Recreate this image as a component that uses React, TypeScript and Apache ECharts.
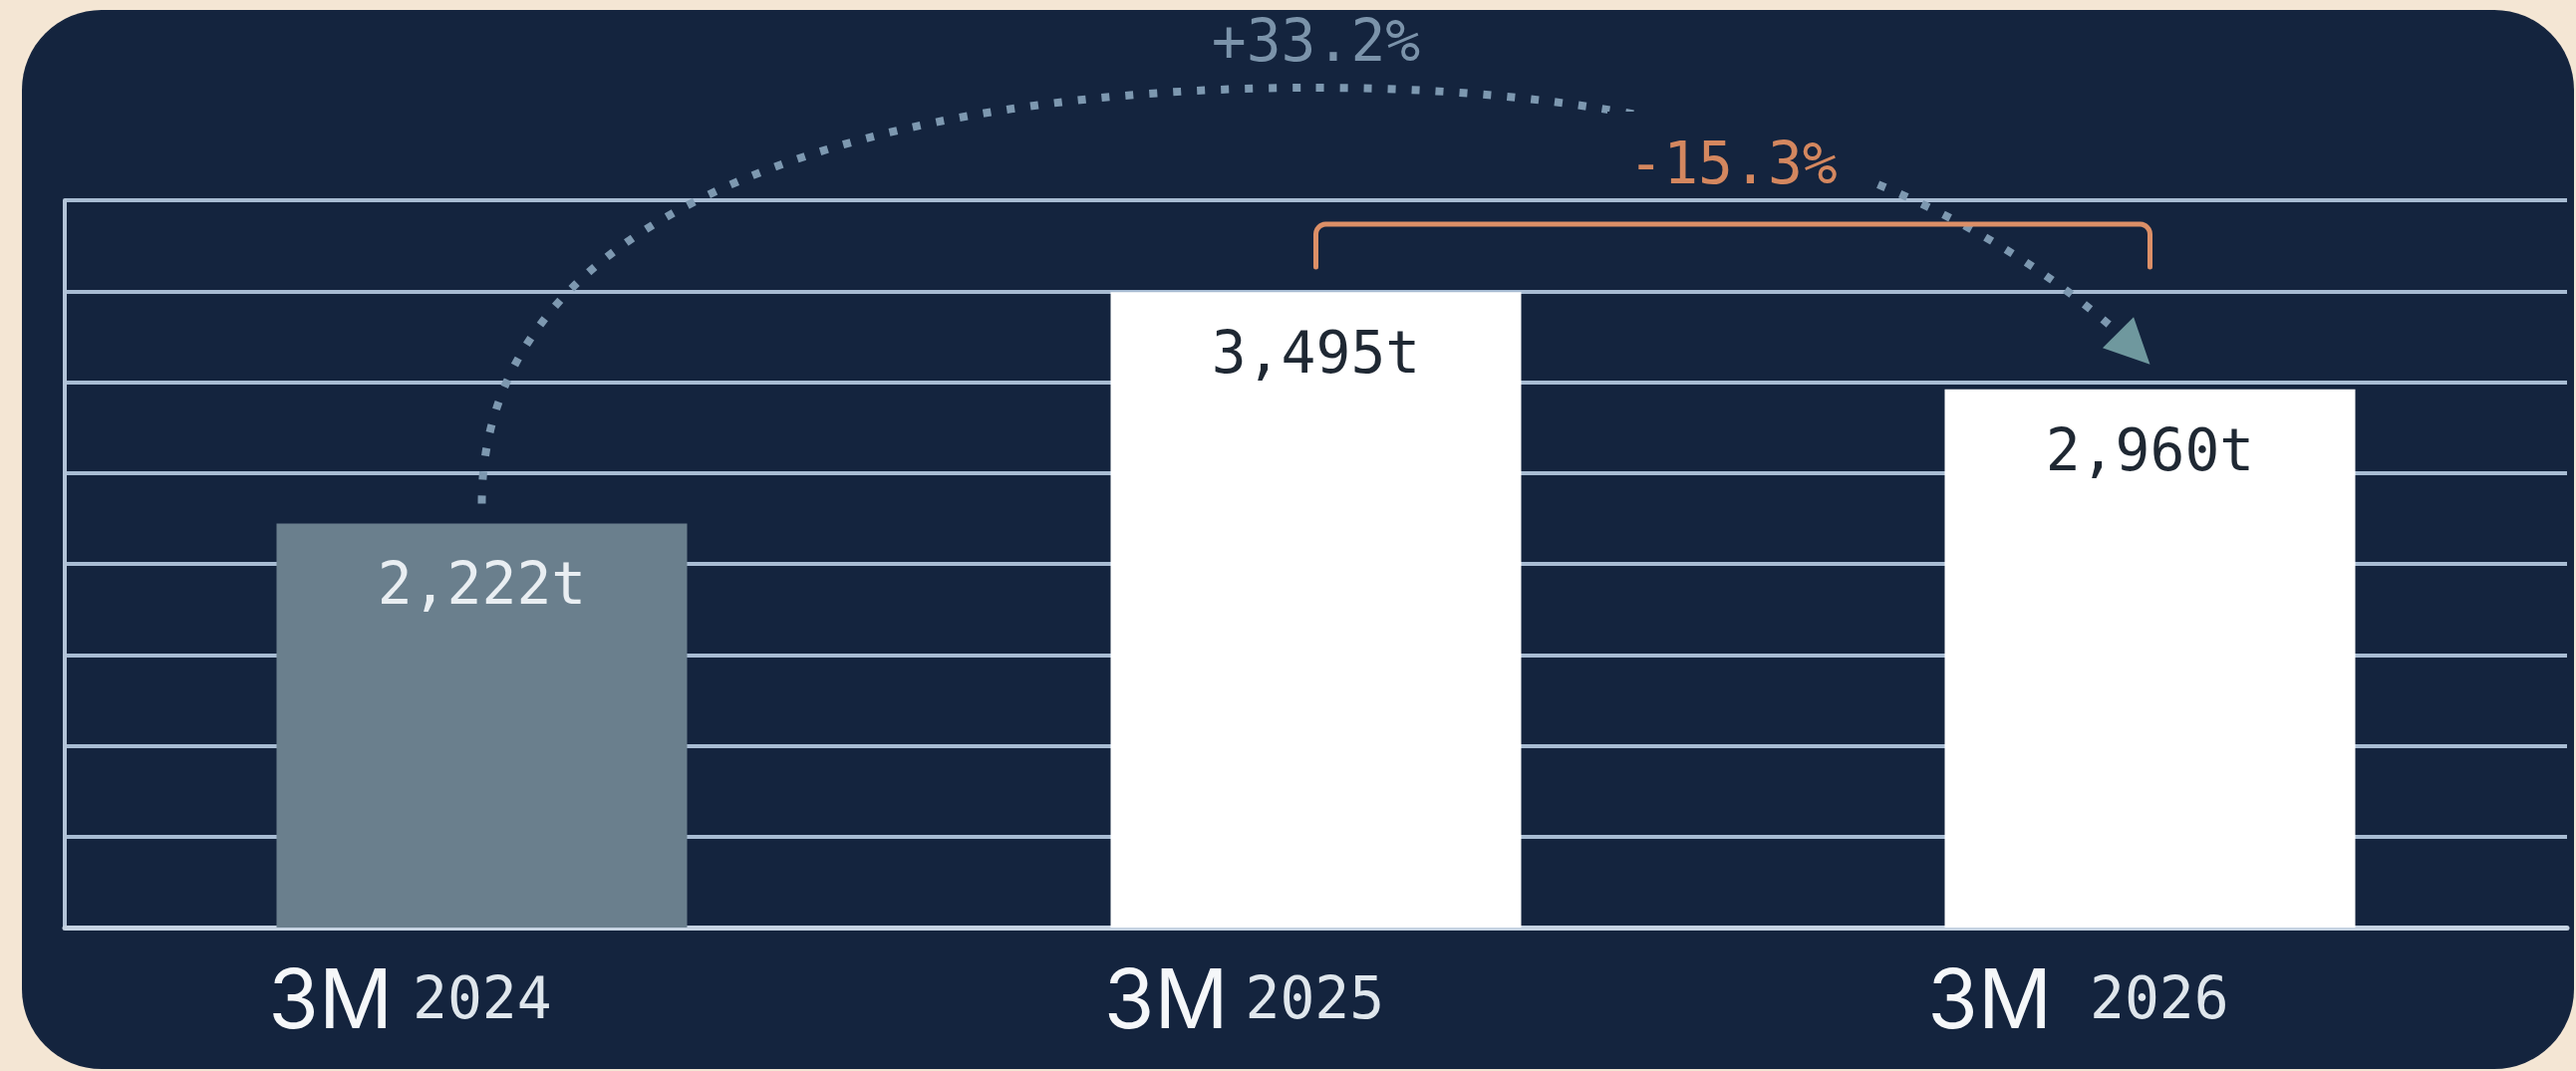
import React, { useEffect, useRef } from 'react';
import * as echarts from 'echarts';

const periods = ['3M', '3M', '3M'];
const years = ['2024', '2025', '2026'];
const categories = periods.map((p, i) => `${p} ${years[i]}`);
const tonnes = [2222, 3495, 2960];
const yMin = 0;
const yMax = 4000;
const yInterval = 500;
const growthLabel = '+33.2%';
const changeLabel = '-15.3%';

const W = 2585;
const H = 1075;
const NAVY = '#14243e';
const MONO = '"DejaVu Sans Mono", "Liberation Mono", monospace';
const SANS = 'Inter, Roboto, "Noto Sans", sans-serif';

export default function App() {
  const ref = useRef<HTMLDivElement>(null);

  useEffect(() => {
    document.body.style.margin = '0';
    const chart = echarts.init(ref.current as HTMLDivElement, null, { renderer: 'svg' });
    const barColors = ['#6a7f8d', '#ffffff', '#ffffff'];
    const labelColors = ['#e9eef2', '#1f2833', '#1f2833'];
    const gaps = [20, 17, 38];

    chart.setOption({
      animation: false,
      backgroundColor: 'transparent',
      grid: {
        left: 65,
        right: 9,
        top: 201,
        bottom: H - 931,
        containLabel: false,
        outerBoundsMode: 'none',
      },
      xAxis: {
        type: 'category',
        data: categories,
        boundaryGap: true,
        axisTick: { show: false },
        axisLine: { show: true, lineStyle: { color: '#c6d3e2', width: 5 } },
        splitLine: { show: false },
        axisLabel: {
          interval: 0,
          margin: 26,
          formatter: (value: string, index: number) => {
            const [p, y] = value.split(' ');
            return `{a|${p}}{g${index}|}{b|${y}}{sp|}`;
          },
          rich: {
            a: { fontFamily: SANS, fontSize: 82, color: '#f5f7f9', lineHeight: 90 },
            b: { fontFamily: MONO, fontSize: 58, color: '#dfe6ec', lineHeight: 90 },
            g0: { width: gaps[0] },
            g1: { width: gaps[1] },
            g2: { width: gaps[2] },
            sp: { width: 144 },
          },
        },
      },
      yAxis: {
        type: 'value',
        min: yMin,
        max: yMax,
        interval: yInterval,
        axisLabel: { show: false },
        axisTick: { show: false },
        axisLine: { show: true, lineStyle: { color: '#b3c4d8', width: 4 } },
        splitLine: { show: true, lineStyle: { color: '#a8bcd3', width: 4 } },
      },
      series: [
        {
          type: 'bar',
          barWidth: 412,
          data: tonnes.map((v, i) => ({
            value: v,
            itemStyle: { color: barColors[i] },
            label: { color: labelColors[i] },
          })),
          label: {
            show: true,
            position: 'insideTop',
            distance: 32,
            fontFamily: MONO,
            fontSize: 58,
            formatter: (p: any) => `${Number(p.value).toLocaleString('en-US')}t`,
          },
          z: 3,
        },
      ],
    });

    const px = (i: number, v: number) =>
      chart.convertToPixel({ xAxisIndex: 0, yAxisIndex: 0 }, [i, v]) as number[];

    const [c0, t0] = px(0, tonnes[0]);
    const [c1] = px(1, tonnes[1]);
    const [c2, t2] = px(2, tonnes[2]);
    const yTop = px(0, yMax)[1];

    const start = [c0, t0 - 20];
    const peak = [c1, yTop - 113];
    const tip = [c2, t2 - 25];
    const base = [tip[0] - 32, tip[1] - 32];
    const dir = [Math.SQRT1_2, Math.SQRT1_2];
    const perp = [-dir[1], dir[0]];
    const half = 22;

    const dotStyle = {
      stroke: '#7d98b0',
      lineWidth: 8,
      lineDash: [8, 16],
      fill: null,
    };

    const midX = (c1 + c2) / 2;
    const changeY = yTop - 37;

    const bY = yTop + 24;
    const bBot = yTop + 67;
    const r = 10;
    const arcPts = (cx: number, cy: number, a0: number, a1: number) => {
      const pts: number[][] = [];
      for (let k = 0; k <= 6; k++) {
        const a = a0 + ((a1 - a0) * k) / 6;
        pts.push([cx + r * Math.cos(a), cy + r * Math.sin(a)]);
      }
      return pts;
    };
    const bracket = [
      [c1, bBot],
      ...arcPts(c1 + r, bY + r, Math.PI, Math.PI * 1.5),
      ...arcPts(c2 - r, bY + r, Math.PI * 1.5, Math.PI * 2),
      [c2, bBot],
    ];

    chart.setOption({
      graphic: [
        {
          type: 'bezierCurve',
          z: 10,
          shape: {
            x1: start[0], y1: start[1],
            cpx1: c0, cpy1: t0 - 330,
            cpx2: c1 - 420, cpy2: peak[1],
            x2: peak[0], y2: peak[1],
          },
          style: dotStyle,
        },
        {
          type: 'bezierCurve',
          z: 10,
          shape: {
            x1: peak[0], y1: peak[1],
            cpx1: c1 + 330, cpy1: peak[1],
            cpx2: base[0] - 195, cpy2: base[1] - 173,
            x2: base[0], y2: base[1],
          },
          style: dotStyle,
        },
        {
          type: 'polygon',
          z: 11,
          shape: {
            points: [
              tip,
              [base[0] + perp[0] * half, base[1] + perp[1] * half],
              [base[0] - perp[0] * half, base[1] - perp[1] * half],
            ],
          },
          style: { fill: '#6f989e' },
        },
        {
          type: 'rect',
          z: 12,
          shape: { x: midX - 126, y: changeY - 52, width: 268, height: yTop - 4 - (changeY - 52) },
          style: { fill: NAVY },
        },
        {
          type: 'text',
          z: 13,
          x: midX,
          y: changeY,
          style: {
            text: changeLabel,
            fill: '#d4875f',
            fontFamily: MONO,
            fontSize: 58,
            align: 'center',
            verticalAlign: 'middle',
          },
        },
        {
          type: 'text',
          z: 13,
          x: c1,
          y: yTop - 160,
          style: {
            text: growthLabel,
            fill: '#7b93aa',
            fontFamily: MONO,
            fontSize: 58,
            align: 'center',
            verticalAlign: 'middle',
          },
        },
        {
          type: 'polyline',
          z: 11,
          shape: { points: bracket },
          style: { stroke: '#dc8f67', lineWidth: 5, fill: null, lineJoin: 'round', lineCap: 'round' },
        },
      ],
    });

    return () => chart.dispose();
  }, []);

  return (
    <div style={{ position: 'fixed', left: 0, top: 0, width: W, height: H, background: '#f4e6d4', overflow: 'hidden' }}>
      <div
        style={{
          position: 'absolute',
          left: 22,
          top: 10,
          width: 2561,
          height: 1063,
          background: NAVY,
          borderRadius: 80,
        }}
      />
      <div ref={ref} style={{ position: 'absolute', left: 0, top: 0, width: W, height: H }} />
    </div>
  );
}
